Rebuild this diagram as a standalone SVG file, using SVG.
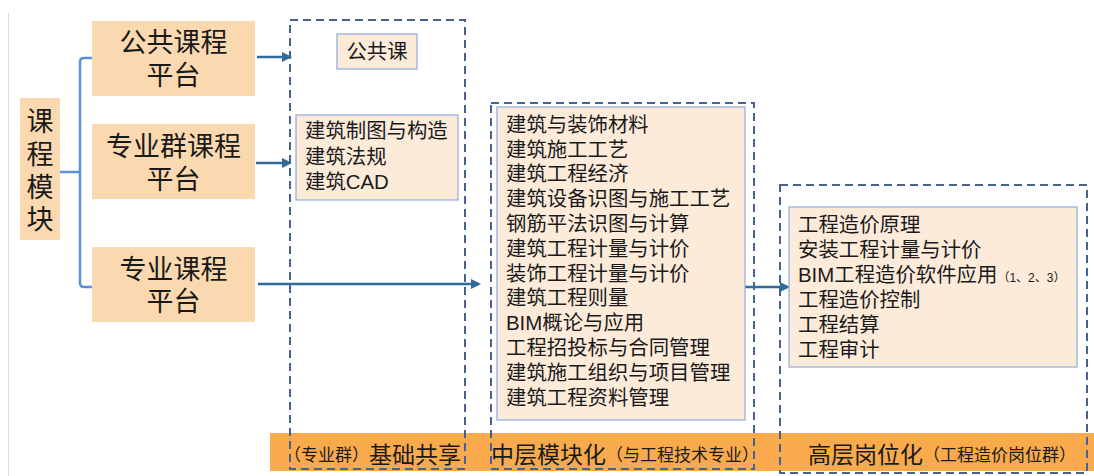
<svg xmlns="http://www.w3.org/2000/svg" width="1094" height="476" viewBox="0 0 1094 476">
<style>
text{font-family:"Liberation Sans","Noto Sans CJK SC",sans-serif;fill:#1a1a1a}
.big{font-size:27px}
.lst{font-size:20.4px}
.plat{fill:#FAD9B0}
.crs{fill:#FDEBDA;stroke:#8FAADC;stroke-width:1.2}
.dash{fill:none;stroke:#44638F;stroke-width:2;stroke-dasharray:8 5}
.arr{fill:none;stroke:#2F6C9B;stroke-width:2.5;marker-end:url(#ah)}
.brk{fill:none;stroke:#5B8FD6;stroke-width:2.5}
.bl{font-size:23px}
.bs{font-size:17px}
</style>
<defs>
<marker id="ah" viewBox="0 0 10 10" refX="8" refY="5" markerWidth="4" markerHeight="4" orient="auto" markerUnits="strokeWidth">
<path d="M0,0 L10,5 L0,10 z" fill="#2F6C9B"/>
</marker>
</defs>
<rect width="1094" height="476" fill="#fff"/>
<line x1="8.5" y1="13" x2="8.5" y2="476" stroke="#DADADA" stroke-width="1"/>
<rect x="270" y="433" width="824" height="38" fill="#F8AA4D"/>
<g id="band-labels">
<text x="284" y="455" dominant-baseline="central"><tspan class="bs">（专业群）</tspan><tspan class="bl">基础共享</tspan></text>
<text x="491" y="455" dominant-baseline="central"><tspan class="bl">中层模块化</tspan><tspan class="bs">（与工程技术专业）</tspan></text>
<text x="808" y="455" dominant-baseline="central"><tspan class="bl">高层岗位化</tspan><tspan class="bs">（工程造价岗位群）</tspan></text>
</g>
<g id="zone1"><rect class="dash" x="290" y="20" width="175" height="449"/></g>
<g id="zone2"><rect class="dash" x="491" y="103" width="263" height="366"/></g>
<g id="zone3"><rect class="dash" x="780" y="185" width="307" height="288"/></g>
<g id="connectors">
<path class="brk" d="M60,172 H80 M92,58 H84 Q80,58 80,62 V283 Q80,287 84,287 H92"/>
<line class="arr" x1="257" y1="57" x2="290" y2="57"/>
<line class="arr" x1="256" y1="163" x2="290" y2="163"/>
<line class="arr" x1="258" y1="284" x2="479" y2="284"/>
<line class="arr" x1="745" y1="287" x2="788" y2="287"/>
</g>
<g id="course-module">
<rect class="plat" x="20" y="98" width="40" height="142"/>
<text class="big" text-anchor="middle" dominant-baseline="central"><tspan x="40" y="122">课</tspan><tspan x="40" y="155">程</tspan><tspan x="40" y="188">模</tspan><tspan x="40" y="220">块</tspan></text>
</g>
<g id="public-platform">
<rect class="plat" x="92" y="21" width="163" height="75"/>
<text class="big" text-anchor="middle" dominant-baseline="central"><tspan x="173.5" y="43">公共课程</tspan><tspan x="173.5" y="76">平台</tspan></text>
</g>
<g id="group-platform">
<rect class="plat" x="92" y="124" width="163" height="75"/>
<text class="big" text-anchor="middle" dominant-baseline="central"><tspan x="173.5" y="147">专业群课程</tspan><tspan x="173.5" y="180">平台</tspan></text>
</g>
<g id="major-platform">
<rect class="plat" x="92" y="247" width="163" height="75"/>
<text class="big" text-anchor="middle" dominant-baseline="central"><tspan x="173.5" y="270">专业课程</tspan><tspan x="173.5" y="302">平台</tspan></text>
</g>
<g id="public-course">
<rect class="crs" x="337" y="34" width="80" height="35"/>
<text class="lst" x="377" y="51.5" text-anchor="middle" dominant-baseline="central">公共课</text>
</g>
<g id="group-courses">
<rect class="crs" x="296" y="115" width="162" height="85"/>
<text class="lst" dominant-baseline="central"><tspan x="305" y="131">建筑制图与构造</tspan><tspan x="305" y="157">建筑法规</tspan><tspan x="305" y="182">建筑CAD</tspan></text>
</g>
<g id="middle-courses">
<rect class="crs" x="497" y="107" width="248" height="313"/>
<text class="lst" dominant-baseline="central"><tspan x="506" y="125">建筑与装饰材料</tspan><tspan x="506" y="150">建筑施工工艺</tspan><tspan x="506" y="174">建筑工程经济</tspan><tspan x="506" y="199">建筑设备识图与施工工艺</tspan><tspan x="506" y="224">钢筋平法识图与计算</tspan><tspan x="506" y="249">建筑工程计量与计价</tspan><tspan x="506" y="274">装饰工程计量与计价</tspan><tspan x="506" y="298">建筑工程则量</tspan><tspan x="506" y="323">BIM概论与应用</tspan><tspan x="506" y="348">工程招投标与合同管理</tspan><tspan x="506" y="373">建筑施工组织与项目管理</tspan><tspan x="506" y="398">建筑工程资料管理</tspan></text>
</g>
<g id="upper-courses">
<rect class="crs" x="789" y="207" width="288" height="160"/>
<text class="lst" dominant-baseline="central"><tspan x="798" y="225">工程造价原理</tspan><tspan x="798" y="250">安装工程计量与计价</tspan><tspan x="798" y="275">BIM工程造价软件应用</tspan><tspan font-size="12" dy="3">（1、2、3）</tspan><tspan x="798" y="300">工程造价控制</tspan><tspan x="798" y="325">工程结算</tspan><tspan x="798" y="350">工程审计</tspan></text>
</g>
</svg>
